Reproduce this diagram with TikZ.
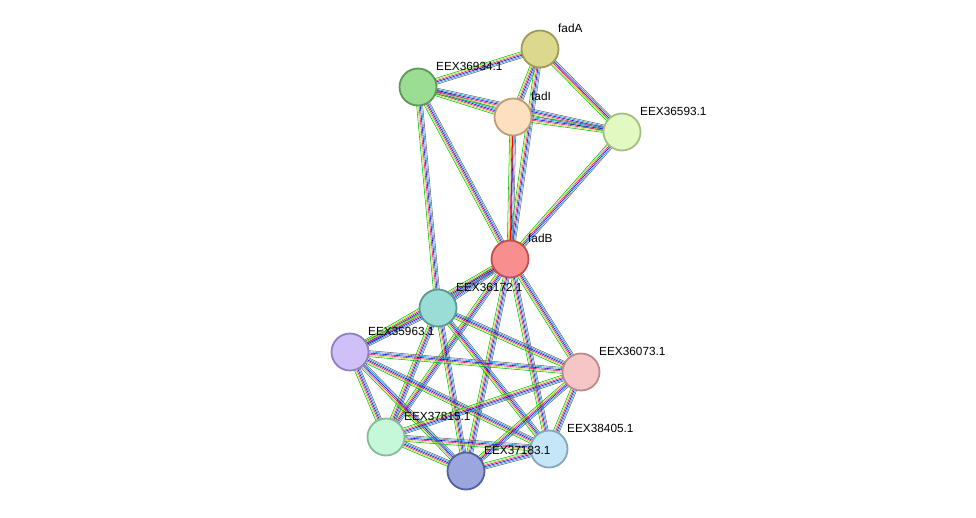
\documentclass[tikz,border=0pt]{standalone}
\usepackage{fontspec}
\setmainfont{Liberation Sans}
\usetikzlibrary{calc}
\begin{document}
\begin{tikzpicture}[x=1pt,y=-1pt,
  prot/.style={circle,draw,line width=1.8pt,minimum size=37pt,inner sep=0pt},
  lab/.style={anchor=west,font=\fontsize{11.8}{13}\selectfont,inner sep=0pt}]
\useasboundingbox (0,0) rectangle (976,517);
\newcommand{\bund}[2]{%
  \foreach \c/\o in {{green!75!black}/-3,{yellow!70!green}/-1.8,{magenta!80!red}/-0.6,{blue!85!black}/0.6,{cyan!80!blue}/1.8,{black!60}/3}{%
    \draw[\c,line width=0.55pt] ($(#1)!\o pt!90:(#2)$) -- ($(#2)!\o pt!-90:(#1)$);}}
\definecolor{cA}{HTML}{DCD98E}\definecolor{bA}{HTML}{9E9A5A}
\definecolor{c934}{HTML}{9BDD93}\definecolor{b934}{HTML}{5C9A56}
\definecolor{cI}{HTML}{FCE0C0}\definecolor{bI}{HTML}{BE9C78}
\definecolor{c593}{HTML}{E2FAC2}\definecolor{b593}{HTML}{A2C080}
\definecolor{cB}{HTML}{F88E8E}\definecolor{bB}{HTML}{C05050}
\definecolor{c172}{HTML}{9ADDD6}\definecolor{b172}{HTML}{5A9A94}
\definecolor{c963}{HTML}{D0C0F8}\definecolor{b963}{HTML}{9080C0}
\definecolor{c073}{HTML}{F6C6C6}\definecolor{b073}{HTML}{BC8A8A}
\definecolor{c815}{HTML}{C4F8D8}\definecolor{b815}{HTML}{84BC98}
\definecolor{c405}{HTML}{C4E6F8}\definecolor{b405}{HTML}{84A6C0}
\definecolor{c183}{HTML}{9BA6DE}\definecolor{b183}{HTML}{54609E}
\coordinate (fadA) at (540,49);
\coordinate (e934) at (418,87);
\coordinate (fadI) at (513,117);
\coordinate (e593) at (622,132);
\coordinate (fadB) at (510,259);
\coordinate (e172) at (438,308);
\coordinate (e963) at (350,352);
\coordinate (e073) at (581,372);
\coordinate (e815) at (386,437);
\coordinate (e405) at (549,449);
\coordinate (e183) at (466,471);
\foreach \a/\b in {fadA/e934,fadA/fadI,fadA/e593,fadA/fadB,e934/fadI,e934/e593,e934/fadB,e934/e172,fadI/e593,fadI/fadB,e593/fadB,
  fadB/e172,fadB/e963,fadB/e073,fadB/e815,fadB/e405,fadB/e183,
  e172/e963,e172/e073,e172/e815,e172/e405,e172/e183,
  e963/e073,e963/e815,e963/e405,e963/e183,
  e073/e815,e073/e405,e073/e183,
  e815/e405,e815/e183,e405/e183}{\bund{\a}{\b}}
\draw[red,line width=0.8pt] (fadI) -- (fadB);
\node[prot,fill=cA,draw=bA] (nA) at (fadA) {};
\node[prot,fill=c934,draw=b934] (n934) at (e934) {};
\node[prot,fill=cI,draw=bI] (nI) at (fadI) {};
\node[prot,fill=c593,draw=b593] (n593) at (e593) {};
\node[prot,fill=cB,draw=bB] (nB) at (fadB) {};
\node[prot,fill=c172,draw=b172] (n172) at (e172) {};
\node[prot,fill=c963,draw=b963] (n963) at (e963) {};
\node[prot,fill=c073,draw=b073] (n073) at (e073) {};
\node[prot,fill=c815,draw=b815] (n815) at (e815) {};
\node[prot,fill=c405,draw=b405] (n405) at (e405) {};
\node[prot,fill=c183,draw=b183] (n183) at (e183) {};
\foreach \n/\t in {fadA/fadA,e934/EEX36934.1,fadI/fadI,e593/EEX36593.1,fadB/fadB,e172/EEX36172.1,e963/EEX35963.1,e073/EEX36073.1,e815/EEX37815.1,e405/EEX38405.1,e183/EEX37183.1}
  \node[lab] (l\n) at ($(\n)+(18,-21)$) {\t};
\end{tikzpicture}
\end{document}
